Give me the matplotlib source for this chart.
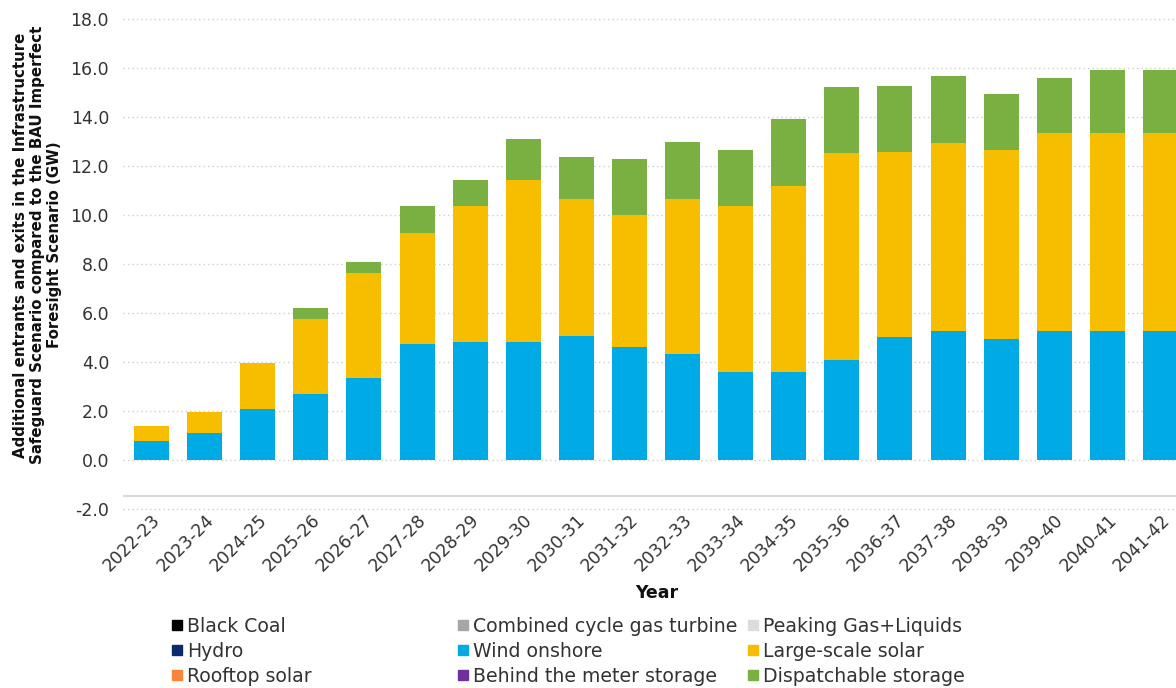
import matplotlib
matplotlib.use("Agg")
import matplotlib.pyplot as plt
from matplotlib.lines import Line2D
import numpy as np

plt.rcParams['font.family'] = ['DejaVu Sans']

years = ["2022-23", "2023-24", "2024-25", "2025-26", "2026-27", "2027-28", "2028-29",
         "2029-30", "2030-31", "2031-32", "2032-33", "2033-34", "2034-35", "2035-36",
         "2036-37", "2037-38", "2038-39", "2039-40", "2040-41", "2041-42"]

black_coal = [0.0] * 20
ccgt = [0.0] * 20
peaking = [0.0] * 20
hydro = [0.0] * 20
wind_onshore = [0.77, 1.09, 2.09, 2.71, 3.35, 4.72, 4.81, 4.81, 5.06, 4.61,
                4.33, 3.58, 3.61, 4.07, 5.04, 5.25, 4.94, 5.25, 5.25, 5.25]
large_solar = [0.60, 0.86, 1.88, 3.05, 4.28, 4.54, 5.55, 6.61, 5.60, 5.37,
               6.33, 6.78, 7.59, 8.48, 7.54, 7.70, 7.70, 8.08, 8.08, 8.08]
rooftop_solar = [0.0] * 20
btm_storage = [0.0] * 20
dispatchable = [0.00, 0.00, 0.00, 0.44, 0.44, 1.09, 1.06, 1.70, 1.69, 2.29,
                2.31, 2.28, 2.70, 2.69, 2.67, 2.71, 2.30, 2.26, 2.59, 2.59]

series = [
    ("Black Coal", black_coal, "#000000"),
    ("Combined cycle gas turbine", ccgt, "#A6A6A6"),
    ("Peaking Gas+Liquids", peaking, "#DCDCDC"),
    ("Hydro", hydro, "#0B2A6B"),
    ("Wind onshore", wind_onshore, "#00AAE4"),
    ("Large-scale solar", large_solar, "#F7BE00"),
    ("Rooftop solar", rooftop_solar, "#F9843A"),
    ("Behind the meter storage", btm_storage, "#7030A0"),
    ("Dispatchable storage", dispatchable, "#7AAF42"),
]

W, H = 1176, 688
fig = plt.figure(figsize=(W / 100, H / 100), dpi=100)
ax = fig.add_axes([123 / W, (H - 509) / H, 1066 / W, 490 / H])

x = np.arange(len(years))
bottom = np.zeros(len(years))
for name, vals, col in series:
    v = np.array(vals)
    ax.bar(x, v, bottom=bottom, width=0.66, color=col, linewidth=0, zorder=3)
    bottom += v

ax.set_xlim(-0.537, len(years) - 1 + 0.537)
ax.set_ylim(-2, 18)
ticks = np.arange(-2, 18.1, 2)
ax.set_yticks(ticks)
ax.set_yticklabels([f"{t:.1f}" for t in ticks])
ax.yaxis.grid(True, color="#CFCFCF", linestyle=(0, (1, 2.2)), linewidth=1.0, zorder=0)
for gl in ax.get_ygridlines():
    gl.set_clip_on(False)
ax.axhline(-1.46, color="#D9D9D9", linewidth=1.6, zorder=1)
for s in ax.spines.values():
    s.set_visible(False)
ax.tick_params(axis="both", length=0, colors="#333333", labelsize=12.5)
ax.tick_params(axis="y", pad=10)
ax.tick_params(axis="x", pad=1.5)
ax.set_xticks(x)
ax.set_xticklabels(years, rotation=45, ha="right", va="top", rotation_mode="anchor")

fig.text(37.5 / W, 1 - 245 / H,
         "Additional entrants and exits in the Infrastructure\n"
         "Safeguard Scenario compared to the BAU Imperfect\n"
         "Foresight Scenario (GW)",
         rotation=90, ha="center", va="center", multialignment="center",
         fontsize=10.8, fontweight="bold", linespacing=1.15, color="#111111")

fig.text(657 / W, 1 - 593 / H, "Year", ha="center", va="center",
         fontsize=12.5, fontweight="bold", color="#111111")

cols = [[0, 3, 6], [1, 4, 7], [2, 5, 8]]
xs = [177, 463, 753]
for cidx, idxs in enumerate(cols):
    handles = [Line2D([], [], marker="s", markersize=6.5, linestyle="none",
                      color=series[i][2]) for i in idxs]
    labels = [series[i][0] for i in idxs]
    fig.legend(handles, labels, loc="center left",
               bbox_to_anchor=((xs[cidx] - 4.7) / W, 1 - 651.5 / H),
               frameon=False, borderpad=0, borderaxespad=0,
               handlelength=0.5, handletextpad=0.3, labelspacing=0.32,
               fontsize=13.6, labelcolor="#333333")

fig.savefig("out.png", dpi=100)
